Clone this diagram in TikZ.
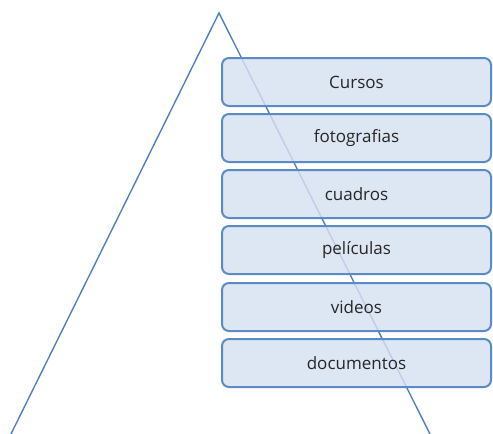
\documentclass[tikz,border=0pt]{standalone}
\usepackage{fontspec}
\setmainfont{Open Sans}
\definecolor{boxfill}{HTML}{D6E0F0}
\definecolor{boxline}{HTML}{5A8BC8}
\definecolor{triline}{HTML}{4F81BD}
\tikzset{
  itembox/.style={draw=boxline, line width=2pt, fill=boxfill, fill opacity=0.82, text opacity=1,
    rounded corners=7pt, minimum width=269pt, minimum height=48pt, inner sep=0pt,
    font=\fontsize{17}{20}\selectfont, text=black!85},
  tri/.style={draw=triline, line width=1.4pt}
}
\begin{document}
\begin{tikzpicture}[x=1pt,y=-1pt]
\useasboundingbox (0,0) rectangle (493,434);
\coordinate (apex) at (219,13);
\coordinate (bl) at (10,436);
\coordinate (br) at (431,436);
\draw[tri] (bl) -- (apex) -- (br);
\node[itembox] (n1) at (356.5,82) {Cursos};
\node[itembox] (n2) at (356.5,138) {fotografias};
\node[itembox] (n3) at (356.5,194) {cuadros};
\node[itembox] (n4) at (356.5,250) {películas};
\node[itembox] (n5) at (356.5,307) {videos};
\node[itembox] (n6) at (356.5,363) {documentos};
\end{tikzpicture}
\end{document}
